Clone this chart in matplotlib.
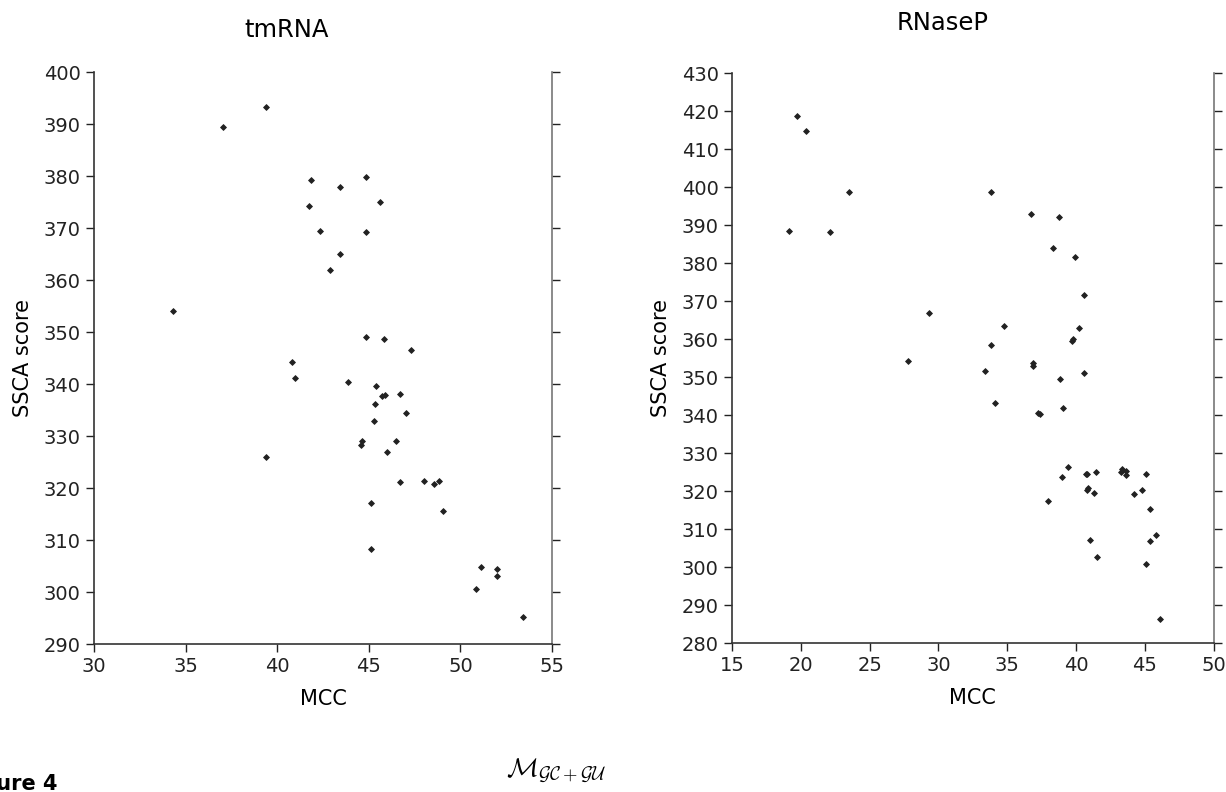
import matplotlib
matplotlib.use("Agg")
import matplotlib.pyplot as plt

# ---- data: tmRNA ----
tm_mcc = [39.37, 37.04, 41.86, 43.41, 44.85, 41.74, 45.59, 42.36, 44.85, 43.41,
          42.88, 34.33, 44.85, 45.83, 47.32, 40.83, 40.99, 43.85, 45.41, 45.70,
          45.88, 46.70, 45.32, 47.05, 45.27, 44.61, 44.59, 46.50, 39.41, 46.01,
          46.68, 48.03, 48.57, 48.83, 45.10, 49.07, 45.14, 51.14, 52.00, 52.02,
          50.87, 53.43]
tm_ssca = [393.3, 389.5, 379.2, 377.9, 379.9, 374.2, 375.0, 369.5, 369.2, 365.0,
           361.9, 354.1, 349.1, 348.7, 346.5, 344.2, 341.1, 340.4, 339.7, 337.7,
           337.9, 338.1, 336.2, 334.5, 332.9, 329.0, 328.3, 329.0, 325.9, 326.9,
           321.1, 321.4, 320.7, 321.4, 317.1, 315.5, 308.3, 304.9, 304.4, 303.1,
           300.5, 295.1]

# ---- data: RNaseP ----
rp_mcc = [19.72, 20.40, 23.53, 33.80, 19.17, 22.15, 36.75, 38.79, 38.35, 39.93,
          40.60, 29.29, 34.74, 40.19, 39.69, 39.78, 33.80, 27.77, 33.39, 36.87,
          36.90, 38.86, 40.56, 34.13, 37.25, 37.35, 39.03, 39.39, 38.98, 40.70,
          40.80, 41.48, 43.27, 43.37, 43.63, 43.66, 45.09, 40.82, 40.90, 41.29,
          44.22, 44.80, 37.94, 45.36, 45.81, 45.40, 41.02, 41.53, 45.06, 46.13]
rp_ssca = [418.7, 414.9, 398.8, 398.7, 388.4, 388.3, 393.1, 392.2, 383.9, 381.6,
           371.7, 366.8, 363.4, 363.0, 359.6, 360.1, 358.4, 354.2, 351.7, 353.7,
           352.9, 349.6, 351.1, 343.3, 340.6, 340.3, 341.8, 326.5, 323.7, 324.5,
           324.5, 325.1, 325.2, 325.9, 325.4, 324.3, 324.5, 320.3, 320.8, 319.5,
           319.4, 320.3, 317.4, 315.3, 308.5, 306.9, 307.1, 302.8, 300.9, 286.5]

tm_xticks = [30, 35, 40, 45, 50, 55]
tm_yticks = [290, 300, 310, 320, 330, 340, 350, 360, 370, 380, 390, 400]
rp_xticks = [15, 20, 25, 30, 35, 40, 45, 50]
rp_yticks = [280, 290, 300, 310, 320, 330, 340, 350, 360, 370, 380, 390, 400, 410, 420, 430]

W, H = 1226, 792
fig = plt.figure(figsize=(W / 100, H / 100), dpi=100)
plt.rcParams['font.family'] = ['DejaVu Sans']


def px_axes(x0, y0, x1, y1):
    return fig.add_axes([x0 / W, 1 - y1 / H, (x1 - x0) / W, (y1 - y0) / H])


def style(ax, x, y, xt, yt):
    ax.plot(x, y, linestyle='none', marker='D', ms=3.0, color='#222222',
            markeredgewidth=0.6, markeredgecolor='#222222')
    ax.set_xlim(xt[0], xt[-1])
    ax.set_ylim(yt[0], yt[-1])
    ax.set_xticks(xt)
    ax.set_yticks(yt)
    ax.spines['top'].set_visible(False)
    for s in ['left', 'bottom']:
        ax.spines[s].set_color('#333333')
        ax.spines[s].set_linewidth(1.2)
    ax.spines['right'].set_color('#777777')
    ax.spines['right'].set_linewidth(1.2)
    ax.tick_params(direction='out', length=6, width=1.0, labelsize=14,
                   colors='#222222', right=True, top=False)
    ax.tick_params(axis='y', which='both', right=True, labelright=False)
    ax.set_xlabel('MCC', fontsize=15, labelpad=9)
    ax.set_ylabel('SSCA score', fontsize=15, labelpad=8)


ax1 = px_axes(94, 72, 552, 644)
style(ax1, tm_mcc, tm_ssca, tm_xticks, tm_yticks)
ax2 = px_axes(732, 73.3, 1213.7, 643.3)
style(ax2, rp_mcc, rp_ssca, rp_xticks, rp_yticks)

fig.text(287 / W, 1 - 30 / H, 'tmRNA', ha='center', va='center', fontsize=17.5)
fig.text(943 / W, 1 - 23 / H, 'RNaseP', ha='center', va='center', fontsize=17.5)

fig.text(57 / W, 2 / H, 'Figure 4', ha='right', va='baseline', fontsize=15,
         fontweight='bold')
fig.text(556 / W, 1 - 771 / H, r'$\mathcal{M}_{\mathcal{GC}+\mathcal{GU}}$',
         ha='center', va='center', fontsize=19, math_fontfamily='cm')

fig.savefig('out.png', dpi=100, facecolor='white')
